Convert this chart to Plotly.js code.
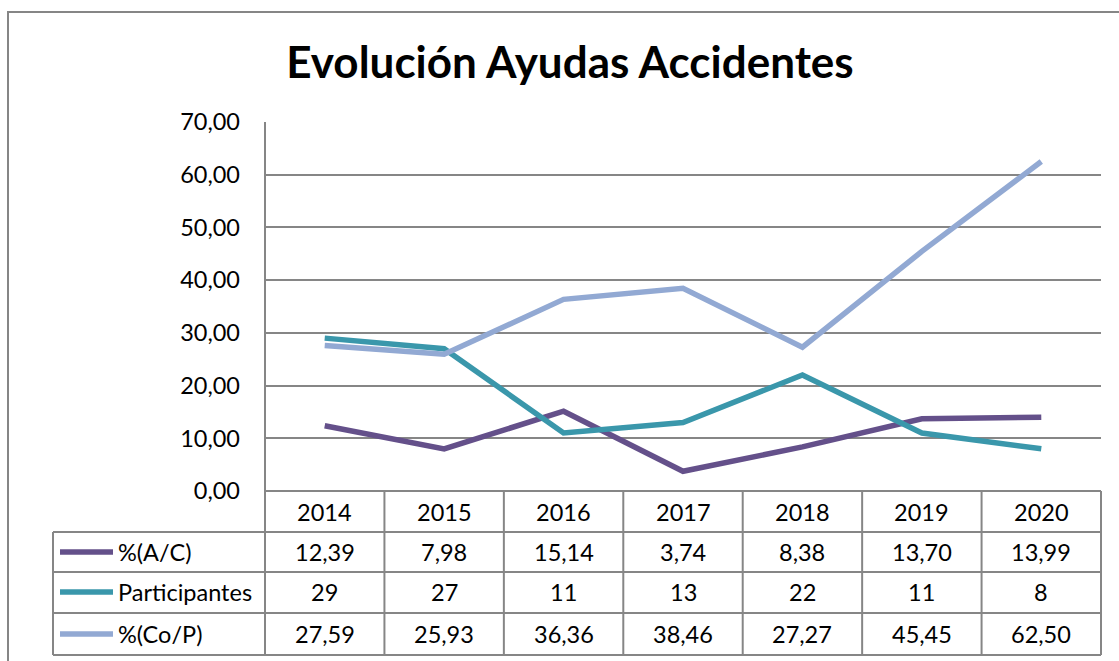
<!DOCTYPE html>
<html><head><meta charset="utf-8">
<script src="https://cdn.plot.ly/plotly-3.0.1.min.js"></script>
<style>html,body{margin:0;padding:0;background:#fff;}#chart{width:1119px;height:661px;}</style>
</head><body><div id="chart"></div>
<script>
// ---- data ----
const years = ['2014','2015','2016','2017','2018','2019','2020'];
const seriesNames = ['%(A/C)','Participantes','%(Co/P)'];
const pctAC = [12.39, 7.98, 15.14, 3.74, 8.38, 13.70, 13.99];
const participantes = [29, 27, 11, 13, 22, 11, 8];
const pctCoP = [27.59, 25.93, 36.36, 38.46, 27.27, 45.45, 62.50];
const decimals = [2, 0, 2];
const yTicks = [0, 10, 20, 30, 40, 50, 60, 70];

const colors = ['#64508a', '#3a97ab', '#92a9d3'];
const seriesValues = [pctAC, participantes, pctCoP];

const W = 1119, H = 661;
const px = x => x / W;
const py = y => 1 - y / H;
const FONT = 'Lato, "Open Sans", sans-serif';
const FS = 23.5;
const grey = '#868686';

const xIdx = years.map((_, i) => i);
const traces = seriesValues.map((vals, s) => ({
  x: xIdx, y: vals, type: 'scatter', mode: 'lines', name: seriesNames[s],
  line: {color: colors[s], width: 5.5}, hoverinfo: 'skip'
}));

const fmt = (v, d) => v.toFixed(d).replace('.', ',');

const shapes = [];
const L = (x0, y0, x1, y1, xref) => shapes.push({type: 'line', xref: xref || 'paper', yref: 'paper',
  x0: x0, y0: y0, x1: x1, y1: y1, line: {color: grey, width: 2}});
// outer chart border
shapes.push({type: 'rect', xref: 'paper', yref: 'paper', x0: px(8), y0: py(12), x1: px(1135), y1: py(675),
  line: {color: grey, width: 2}});
// table
const rowLines = [491, 532, 572, 613, 655];
L(px(265), py(491), px(1101), py(491));
for (let r = 1; r < rowLines.length; r++) L(px(53), py(rowLines[r]), px(1101), py(rowLines[r]));
L(px(53), py(532), px(53), py(655));
L(px(265), py(122), px(265), py(655));
L(px(1101), py(491), px(1101), py(655));
for (let i = 0; i < years.length - 1; i++) L(i + 0.5, py(491), i + 0.5, py(655), 'x');

const annotations = [];
const rowCenters = [512, 552, 592, 634];
years.forEach((yr, i) => annotations.push({xref: 'x', yref: 'paper', x: i, y: py(rowCenters[0]),
  text: yr, showarrow: false, xanchor: 'center', yanchor: 'middle', font: {family: FONT, size: FS, color: '#000'}}));
seriesValues.forEach((vals, s) => {
  const yc = py(rowCenters[s + 1]);
  shapes.push({type: 'line', xref: 'paper', yref: 'paper', x0: px(60), x1: px(113), y0: yc, y1: yc,
    line: {color: colors[s], width: 5.5}});
  annotations.push({xref: 'paper', yref: 'paper', x: px(116), y: yc, text: seriesNames[s], showarrow: false,
    xanchor: 'left', yanchor: 'middle', font: {family: FONT, size: FS, color: '#000'}});
  vals.forEach((v, i) => annotations.push({xref: 'x', yref: 'paper', x: i, y: yc, text: fmt(v, decimals[s]),
    showarrow: false, xanchor: 'center', yanchor: 'middle', font: {family: FONT, size: FS, color: '#000'}}));
});

const layout = {
  width: W, height: H, margin: {l: 0, r: 0, t: 0, b: 0},
  paper_bgcolor: '#fff', plot_bgcolor: '#fff', showlegend: false,
  separators: ',.',
  title: {text: '<b>Evolución Ayudas Accidentes</b>', x: px(570), xref: 'paper', xanchor: 'center',
    y: py(63), yref: 'paper', yanchor: 'middle', font: {family: FONT, size: 44, color: '#000'}},
  xaxis: {domain: [px(265), px(1101)], range: [-0.5, 6.5], showgrid: false, zeroline: false,
    showticklabels: false, showline: false, fixedrange: true},
  yaxis: {domain: [py(491), py(122)], range: [0, 70], tickvals: yTicks, tickformat: '.2f',
    showgrid: true, gridcolor: grey, gridwidth: 2, zeroline: false, showline: false,
    ticks: '', ticklabelstandoff: 24, tickfont: {family: FONT, size: FS, color: '#000'}, fixedrange: true},
  shapes: shapes, annotations: annotations
};
Plotly.newPlot('chart', traces, layout, {displayModeBar: false, staticPlot: true});
</script></body></html>
